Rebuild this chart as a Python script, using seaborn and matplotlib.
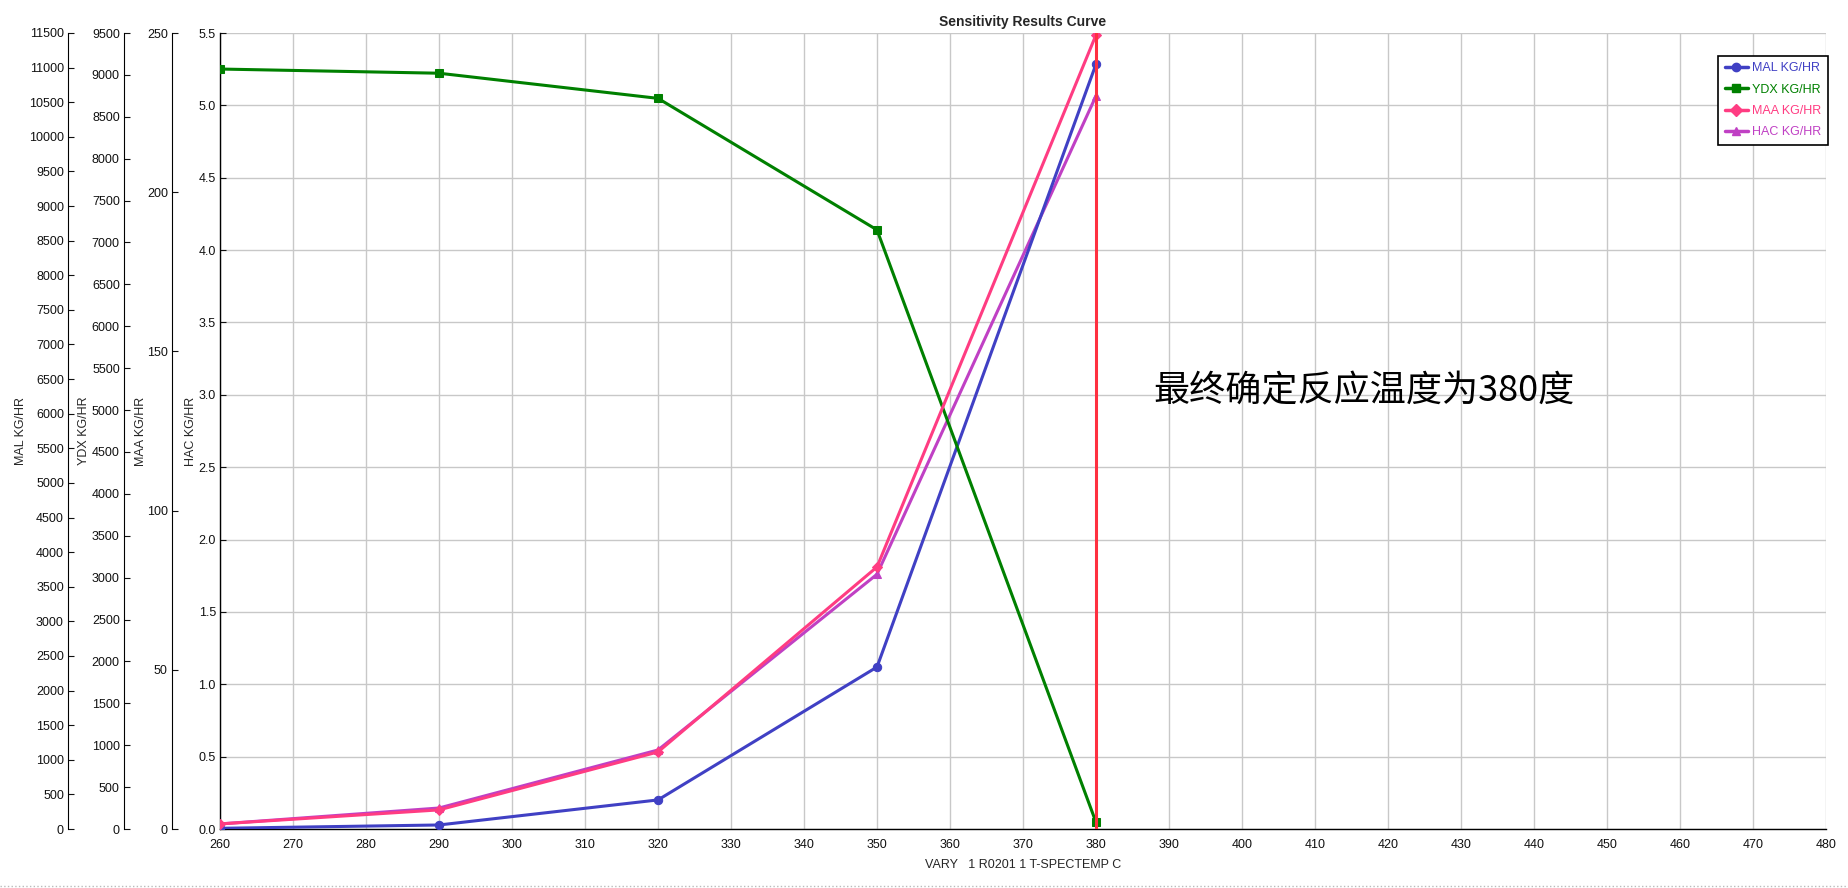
import numpy as np
import pandas as pd
import matplotlib
matplotlib.use("Agg")
import matplotlib.pyplot as plt
import seaborn as sns
from matplotlib.lines import Line2D
from matplotlib.ticker import FormatStrFormatter

# Sensitivity results: reaction temperature vs product flows
temps = [260, 290, 320, 350, 380]
mal = [10, 58, 420, 2340, 11050]
ydx = [9070, 9020, 8720, 7150, 80]
maa = [1.6, 6.0, 24.2, 82.3, 249.4]
hac = [0.035, 0.145, 0.546, 1.76, 5.065]
final_temp = 380

series_names = ["MAL KG/HR", "YDX KG/HR", "MAA KG/HR", "HAC KG/HR"]
series_colors = ["#4040c4", "#008000", "#ff3c82", "#c040c4"]
series_markers = ["o", "s", "D", "^"]

df = pd.DataFrame({"temp": temps, "MAL": mal, "YDX": ydx, "MAA": maa, "HAC": hac})

sns.set_style("ticks")
plt.rcParams["font.family"] = ["Liberation Sans", "DejaVu Sans"]
plt.rcParams["font.size"] = 9

fig = plt.figure(figsize=(18.48, 8.88), dpi=100)
ax = fig.add_axes([220 / 1848, 59 / 888, 1606 / 1848, 796 / 888])

# main axis holds HAC
ax.set_xlim(260, 480)
ax.set_ylim(0, 5.5)
ax.set_xticks(np.arange(260, 481, 10))
ax.set_yticks(np.arange(0, 5.51, 0.5))
ax.yaxis.set_major_formatter(FormatStrFormatter("%.1f"))
ax.grid(True, color="#c8c8c8", linewidth=1)
ax.set_axisbelow(True)
for s in ["top", "right"]:
    ax.spines[s].set_visible(False)
for s in ["left", "bottom"]:
    ax.spines[s].set_color("black")
    ax.spines[s].set_linewidth(1)
ax.tick_params(axis="x", length=0, pad=7, labelsize=9, colors="#111111")
ax.tick_params(axis="y", direction="in", length=4, pad=3, labelsize=9, colors="#111111")


def make_left_axis(pos, top, step):
    a = ax.twinx()
    a.set_ylim(0, top)
    a.set_yticks(np.arange(0, top + 1, step))
    a.yaxis.set_ticks_position("left")
    a.yaxis.set_label_position("left")
    for s in ["top", "right", "bottom"]:
        a.spines[s].set_visible(False)
    a.spines["left"].set_visible(True)
    a.spines["left"].set_position(("axes", pos))
    a.spines["left"].set_color("black")
    a.tick_params(axis="y", which="both", left=True, right=False, direction="in",
                  length=4, pad=3, labelsize=9, colors="#111111")
    a.grid(False)
    return a


ax_mal = make_left_axis(-0.0946, 11500, 500)
ax_ydx = make_left_axis(-0.0598, 9500, 500)
ax_maa = make_left_axis(-0.0299, 250, 50)

targets = [(ax_mal, "MAL"), (ax_ydx, "YDX"), (ax_maa, "MAA"), (ax, "HAC")]
label_x = [-0.120, -0.081, -0.0454, -0.0143]
handles = []
for (a, col), name, color, mk, lx in zip(targets, series_names, series_colors,
                                         series_markers, label_x):
    sns.lineplot(data=df, x="temp", y=col, ax=a, color=color, marker=mk,
                 markersize=6 if mk != "D" else 5, markeredgecolor=color,
                 linewidth=2.2, legend=False)
    a.set_xlabel("")
    a.set_ylabel(name, fontsize=9)
    a.yaxis.set_label_coords(lx, 0.5)
    handles.append(Line2D([], [], color=color, marker=mk, markersize=6,
                          linewidth=2.5, label=name))
ax.set_xlabel("VARY   1 R0201 1 T-SPECTEMP C", fontsize=9, labelpad=6)
ax.set_title("Sensitivity Results Curve", fontsize=10, fontweight="bold", pad=5)

# final temperature marker line on top
ax_maa.axvline(final_temp, color="#ff3040", linewidth=2.2, zorder=10)
ax_maa.set_xlim(260, 480)

ax_maa.text(387.8, 137.4, "最终确定反应温度为380度", fontsize=26,
            family=["Noto Sans CJK SC", "DejaVu Sans"], ha="left", va="center",
            color="black")

leg = ax_maa.legend(handles=handles, loc="upper right", bbox_to_anchor=(1.001, 0.971),
                    borderaxespad=0, fancybox=False, edgecolor="black",
                    framealpha=1, fontsize=9, handlelength=1.9, handletextpad=0.3,
                    borderpad=0.5, labelspacing=0.75)
leg.get_frame().set_linewidth(1.2)
for txt, color in zip(leg.get_texts(), series_colors):
    txt.set_color(color)

fig.add_artist(Line2D([0, 1], [0.002, 0.002], transform=fig.transFigure,
                      linestyle=":", color="#bbbbbb", linewidth=1))

fig.savefig("out.png", dpi=100)
